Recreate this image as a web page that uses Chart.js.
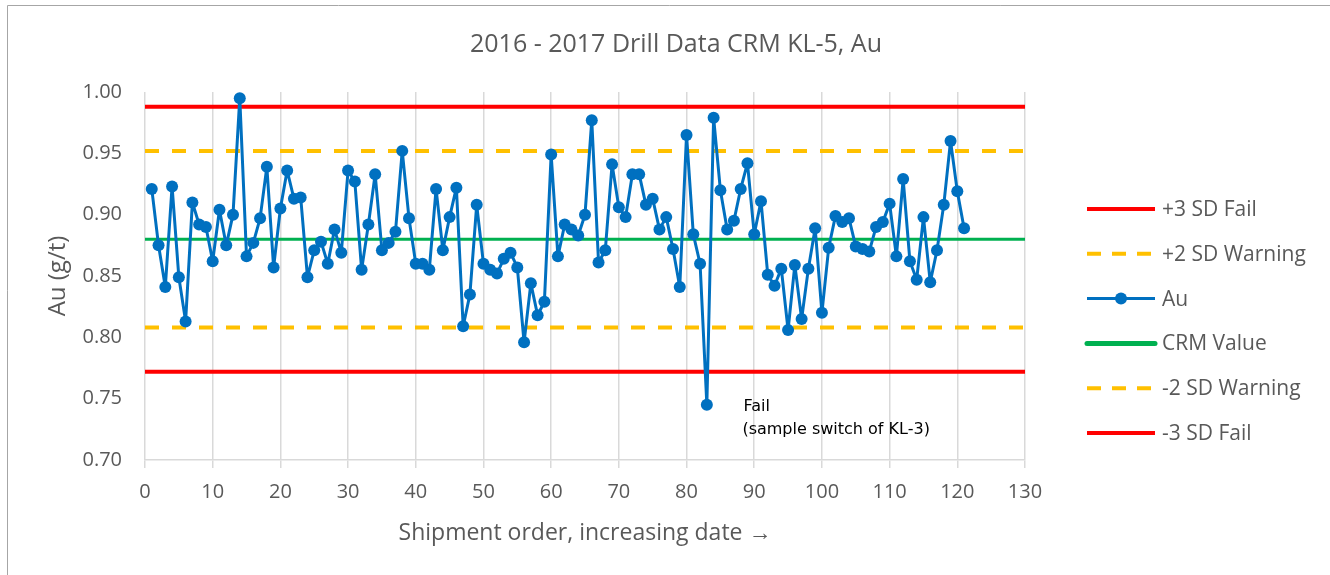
<!DOCTYPE html>
<html>
<head>
<meta charset="utf-8">
<title>2016 - 2017 Drill Data CRM KL-5, Au</title>
<script src="https://cdn.jsdelivr.net/npm/chart.js@4.4.0/dist/chart.umd.min.js"></script>
<style>
    body { margin: 0; background: #fff; }
    #wrap { width: 1330px; height: 575px; }
</style>
</head>
<body>
<div id="wrap"><canvas id="myChart" width="1330" height="575"></canvas></div>
<script>
// Au assays for CRM KL-5, in shipment order (1..121)
var auValues = [
    0.921, 0.875, 0.841, 0.923, 0.849, 0.813, 0.910, 0.892, 0.890, 0.862,
    0.904, 0.875, 0.900, 0.995, 0.866, 0.877, 0.897, 0.939, 0.857, 0.905,
    0.936, 0.913, 0.914, 0.849, 0.871, 0.878, 0.860, 0.888, 0.869, 0.936,
    0.927, 0.855, 0.892, 0.933, 0.871, 0.877, 0.886, 0.952, 0.897, 0.860,
    0.860, 0.855, 0.921, 0.871, 0.898, 0.922, 0.809, 0.835, 0.908, 0.860,
    0.855, 0.852, 0.864, 0.869, 0.857, 0.796, 0.844, 0.818, 0.829, 0.949,
    0.866, 0.892, 0.888, 0.883, 0.900, 0.977, 0.861, 0.871, 0.941, 0.906,
    0.898, 0.933, 0.933, 0.908, 0.913, 0.888, 0.898, 0.872, 0.841, 0.965,
    0.884, 0.860, 0.745, 0.979, 0.920, 0.888, 0.895, 0.921, 0.942, 0.884,
    0.911, 0.851, 0.842, 0.856, 0.806, 0.859, 0.815, 0.856, 0.889, 0.820,
    0.873, 0.899, 0.894, 0.897, 0.874, 0.872, 0.870, 0.890, 0.894, 0.909,
    0.866, 0.929, 0.862, 0.847, 0.898, 0.845, 0.871, 0.908, 0.960, 0.919,
    0.889
];
var shipment = auValues.map(function (v, i) { return i + 1; });

// control limits
var crmValue = 0.880;
var plus2SD = 0.952;
var plus3SD = 0.988;
var minus2SD = 0.808;
var minus3SD = 0.772;
var xRange = [0, 130];

var yTicks = [0.70, 0.75, 0.80, 0.85, 0.90, 0.95, 1.00];
var xTicks = [0, 10, 20, 30, 40, 50, 60, 70, 80, 90, 100, 110, 120, 130];

var legendOrder = ['+3 SD Fail', '+2 SD Warning', 'Au', 'CRM Value', '-2 SD Warning', '-3 SD Fail'];

var RED = '#FF0000', ORANGE = '#FFC000', BLUE = '#0070C0', GREEN = '#00B050';
var TXT = '#595959';
var FONT = "'Open Sans', 'Noto Sans', sans-serif";

function hLine(label, value, color, width, dash) {
    return {
        label: label,
        data: xRange.map(function (x) { return { x: x, y: value }; }),
        borderColor: color,
        backgroundColor: color,
        borderWidth: width,
        borderDash: dash || [],
        pointRadius: 0,
        order: 2
    };
}

var datasets = [
    hLine('+3 SD Fail', plus3SD, RED, 4),
    hLine('+2 SD Warning', plus2SD, ORANGE, 4, [14, 13]),
    {
        label: 'Au',
        data: shipment.map(function (x, i) { return { x: x, y: auValues[i] }; }),
        borderColor: BLUE,
        backgroundColor: BLUE,
        borderWidth: 3,
        borderJoinStyle: 'round',
        pointRadius: 6,
        pointBorderWidth: 0,
        pointBackgroundColor: BLUE,
        order: 1
    },
    hLine('CRM Value', crmValue, GREEN, 3),
    hLine('-2 SD Warning', minus2SD, ORANGE, 4, [14, 13]),
    hLine('-3 SD Fail', minus3SD, RED, 4)
];

var extras = {
    id: 'extras',
    afterDraw: function (chart) {
        var ctx = chart.ctx;
        var xs = chart.scales.x, ys = chart.scales.y;
        ctx.save();

        // chart area frame (left + top edge visible)
        ctx.strokeStyle = '#A6A6A6';
        ctx.lineWidth = 1;
        ctx.beginPath();
        ctx.moveTo(7.5, 600);
        ctx.lineTo(7.5, 5.5);
        ctx.lineTo(1400, 5.5);
        ctx.stroke();

        // chart title, centred on the whole chart
        ctx.fillStyle = TXT;
        ctx.font = '25px ' + FONT;
        ctx.textAlign = 'center';
        ctx.textBaseline = 'middle';
        ctx.fillText('2016 - 2017 Drill Data CRM KL-5, Au', 676, 45);

        // annotation for the failed sample
        ctx.fillStyle = '#000';
        ctx.font = "16px 'DejaVu Sans', sans-serif";
        ctx.textAlign = 'left';
        var ax = xs.getPixelForValue(88.4);
        var ay = ys.getPixelForValue(0.743);
        ctx.fillText('Fail', ax, ay);
        ctx.fillText('(sample switch of KL-3)', ax - 1, ay + 23);

        // legend
        var lx0 = 1087, lx1 = 1155, ly = 209, step = 44.8;
        ctx.font = '21px ' + FONT;
        legendOrder.forEach(function (name, i) {
            var ds = chart.data.datasets.find(function (d) { return d.label === name; });
            var y = ly + i * step;
            ctx.strokeStyle = ds.borderColor;
            ctx.lineWidth = name === 'CRM Value' ? 5 : (name === 'Au' ? 3 : 4);
            ctx.setLineDash(ds.borderDash && ds.borderDash.length ? [14, 11] : []);
            ctx.lineCap = name === 'CRM Value' ? 'round' : 'butt';
            ctx.beginPath();
            ctx.moveTo(lx0, y);
            ctx.lineTo(lx1, y);
            ctx.stroke();
            ctx.setLineDash([]);
            if (name === 'Au') {
                ctx.fillStyle = BLUE;
                ctx.beginPath();
                ctx.arc((lx0 + lx1) / 2, y, 6, 0, Math.PI * 2);
                ctx.fill();
            }
            ctx.fillStyle = TXT;
            ctx.fillText(name, 1162, y + 1);
        });
        ctx.restore();
    }
};

new Chart(document.getElementById('myChart'), {
    type: 'line',
    data: { datasets: datasets },
    options: {
        responsive: false,
        animation: false,
        layout: { padding: { left: 8, right: 305, top: 92, bottom: 0 } },
        plugins: {
            legend: { display: false },
            tooltip: { enabled: false },
            title: { display: false }
        },
        scales: {
            x: {
                type: 'linear',
                min: xRange[0],
                max: xRange[1],
                afterBuildTicks: function (scale) {
                    scale.ticks = xTicks.map(function (v) { return { value: v }; });
                },
                afterFit: function (scale) { scale.height = 115; },
                grid: { color: '#D9D9D9', lineWidth: 1.5, tickLength: 8 },
                border: { color: '#D9D9D9', width: 1.5 },
                ticks: { color: TXT, font: { family: FONT, size: 20 }, padding: 12, maxRotation: 0 },
                title: {
                    display: true,
                    text: 'Shipment order, increasing date \u2192',
                    color: TXT,
                    font: { family: FONT, size: 23 },
                    padding: { top: 0, bottom: 28 }
                }
            },
            y: {
                min: 0.70,
                max: 1.00,
                afterBuildTicks: function (scale) {
                    scale.ticks = yTicks.map(function (v) { return { value: v }; });
                },
                afterFit: function (scale) { scale.width = 137; },
                grid: { display: false, drawTicks: false },
                border: { display: false },
                ticks: {
                    color: TXT,
                    font: { family: FONT, size: 20 },
                    padding: 23,
                    callback: function (v) { return v.toFixed(2); }
                },
                title: {
                    display: true,
                    text: 'Au (g/t)',
                    color: TXT,
                    font: { family: FONT, size: 24 },
                    padding: { top: 36, bottom: 0 }
                }
            }
        }
    },
    plugins: [extras]
});
</script>
</body>
</html>
